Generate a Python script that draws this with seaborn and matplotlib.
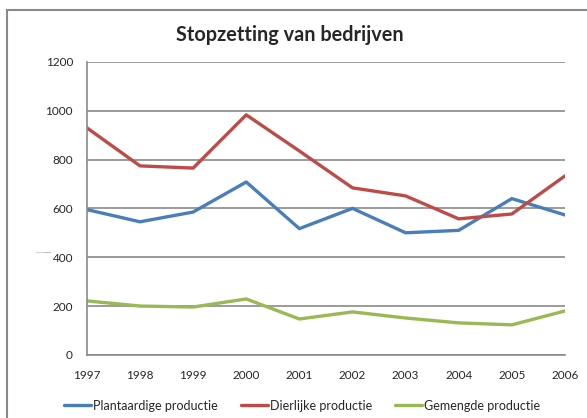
import pandas as pd
import matplotlib.pyplot as plt
import seaborn as sns
from matplotlib.patches import Rectangle

# data
jaren = [1997, 1998, 1999, 2000, 2001, 2002, 2003, 2004, 2005, 2006]
plantaardig = [595, 545, 585, 708, 517, 600, 500, 510, 640, 573]
dierlijk = [930, 774, 765, 983, 835, 684, 651, 557, 577, 733]
gemengd = [221, 200, 196, 229, 147, 176, 151, 131, 123, 180]
reeksen = ["Plantaardige productie", "Dierlijke productie", "Gemengde productie"]
kleuren = ["#4A7EBB", "#BE4B48", "#98B954"]

df = pd.DataFrame({
    "jaar": jaren * 3,
    "aantal": plantaardig + dierlijk + gemengd,
    "reeks": [reeksen[0]] * 10 + [reeksen[1]] * 10 + [reeksen[2]] * 10,
})

sns.set_style("white")
plt.rcParams["font.family"] = ["Lato", "DejaVu Sans"]

fig = plt.figure(figsize=(5.87, 4.18), dpi=100)
ax = fig.add_axes([0.148, 0.151, 0.8145, 0.701])

sns.lineplot(data=df, x="jaar", y="aantal", hue="reeks", palette=kleuren,
             linewidth=2.4, ax=ax, legend=True)

ax.set_xlim(1997, 2006)
ax.set_ylim(0, 1200)
ax.set_xticks(jaren)
ax.set_yticks(range(0, 1201, 200))
ax.tick_params(axis="both", labelsize=8.5, length=0)
ax.tick_params(axis="x", pad=11)
ax.tick_params(axis="y", pad=10)
ax.grid(axis="y", color="#8a8a8a", linewidth=1.2)
ax.set_axisbelow(True)
for s in ["top", "right"]:
    ax.spines[s].set_visible(False)
for s in ["left", "bottom"]:
    ax.spines[s].set_color("#8a8a8a")
    ax.spines[s].set_linewidth(1.2)
ax.set_xlabel("")
ax.set_ylabel("")

# tiny axis title as in the original
fig.text(0.061, 0.397, "Aantal bedrijven", fontsize=1.5, color="#555555", va="center")

fig.text(0.494, 0.916, "Stopzetting van bedrijven", fontsize=14.3, fontweight="bold",
         ha="center", va="center")

ax.legend(loc="center", bbox_to_anchor=(0.45, -0.174), ncol=3, frameon=False,
          fontsize=9, handlelength=2.2, handletextpad=0.15, columnspacing=1.8)

# chart border
fig.patches.append(Rectangle((0.012, -0.1), 1.1, 1.076, transform=fig.transFigure,
                             fill=False, edgecolor="#8a8a8a", linewidth=1.5))

plt.savefig("out.png", dpi=100)
